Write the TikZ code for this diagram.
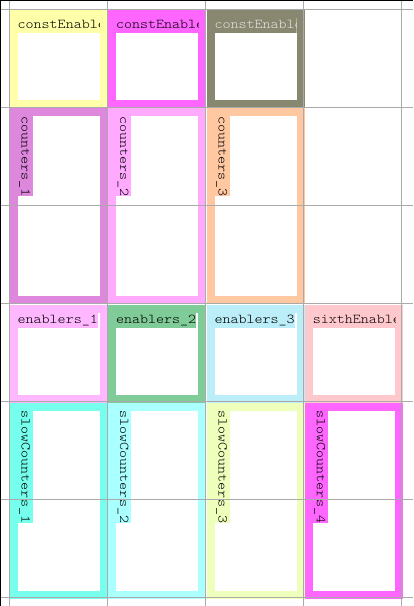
\documentclass[tikz,border=0pt]{standalone}
\usepackage{fontspec}
\usepackage{tikz}
\usetikzlibrary{positioning}
\newfontfamily\monolabel{lmmonolt10-regular.otf}[FakeStretch=1.13]

\definecolor{cenA}{HTML}{FFFFAA}
\definecolor{cenB}{HTML}{FF66FF}
\definecolor{cenC}{HTML}{888870}
\definecolor{cntA}{HTML}{DD88DD}
\definecolor{cntB}{HTML}{FFAAFF}
\definecolor{cntC}{HTML}{FFC8A0}
\definecolor{enbA}{HTML}{FFB8FF}
\definecolor{enbB}{HTML}{80CC98}
\definecolor{enbC}{HTML}{BBEEF8}
\definecolor{enbD}{HTML}{FFC8CC}
\definecolor{slwA}{HTML}{77FFEE}
\definecolor{slwB}{HTML}{AAFFFF}
\definecolor{slwC}{HTML}{EEFFBB}
\definecolor{slwD}{HTML}{FF66FF}
\definecolor{gridgray}{HTML}{AAAAAA}

\tikzset{
	cell/.style={draw=none, inner sep=0, minimum width=98pt, minimum height=98pt},
	tallcell/.style={cell, minimum height=196pt},
	hole/.style={fill=white, inner sep=0, minimum width=82pt, minimum height=82pt},
	tallhole/.style={hole, minimum height=180pt},
	hname/.style={inner sep=0, anchor=north west, text height=11pt, text depth=4pt,
		font=\monolabel\fontsize{13.5}{15}\selectfont},
	vname/.style={hname, rotate=-90, anchor=south west},
	gridline/.style={draw=gridgray, line width=1.2pt}
}

\begin{document}
\begin{tikzpicture}[x=1pt,y=-1pt]
	\useasboundingbox (0,0) rectangle (413,606);
	%% row 1 : constEnable
	\node[cell, anchor=north west, fill=cenA] (ce1) at (9.5,9.5) {};
	\node[cell, right =0pt of ce1, fill=cenB] (ce2) {};
	\node[cell, right =0pt of ce2, fill=cenC] (ce3) {};
	\node[hole, below right =8pt and 8pt of ce1.north west] (ce1h) {};
	\node[hole, below right =8pt and 8pt of ce2.north west] (ce2h) {};
	\node[hole, below right =8pt and 8pt of ce3.north west] (ce3h) {};
	\begin{scope}
		\clip (ce1h.north west) rectangle (ce1h.south east);
		\node[hname, fill=cenA] (ce1n) at (ce1h.north west) {constEnable\_1};
	\end{scope}
	\begin{scope}
		\clip (ce2h.north west) rectangle (ce2h.south east);
		\node[hname, fill=cenB] (ce2n) at (ce2h.north west) {constEnable\_2};
	\end{scope}
	\begin{scope}
		\clip (ce3h.north west) rectangle (ce3h.south east);
		\node[hname, fill=cenC, text=white!88!black] (ce3n) at (ce3h.north west) {constEnable\_3};
	\end{scope}
	%% rows 2-3 : counters
	\node[tallcell, below =0pt of ce1, fill=cntA] (ct1) {};
	\node[tallcell, below =0pt of ce2, fill=cntB] (ct2) {};
	\node[tallcell, below =0pt of ce3, fill=cntC] (ct3) {};
	\node[tallhole, below right =8pt and 8pt of ct1.north west] (ct1h) {};
	\node[tallhole, below right =8pt and 8pt of ct2.north west] (ct2h) {};
	\node[tallhole, below right =8pt and 8pt of ct3.north west] (ct3h) {};
	\node[vname, fill=cntA] (ct1n) at (ct1h.north west) {counters\_1};
	\node[vname, fill=cntB] (ct2n) at (ct2h.north west) {counters\_2};
	\node[vname, fill=cntC] (ct3n) at (ct3h.north west) {counters\_3};
	%% row 4 : enablers
	\node[cell, below =0pt of ct1, fill=enbA] (en1) {};
	\node[cell, right =0pt of en1, fill=enbB] (en2) {};
	\node[cell, right =0pt of en2, fill=enbC] (en3) {};
	\node[cell, right =0pt of en3, fill=enbD] (en4) {};
	\node[hole, below right =8pt and 8pt of en1.north west] (en1h) {};
	\node[hole, below right =8pt and 8pt of en2.north west] (en2h) {};
	\node[hole, below right =8pt and 8pt of en3.north west] (en3h) {};
	\node[hole, below right =8pt and 8pt of en4.north west] (en4h) {};
	\node[hname, fill=enbA] (en1n) at (en1h.north west) {enablers\_1};
	\node[hname, fill=enbB] (en2n) at (en2h.north west) {enablers\_2};
	\node[hname, fill=enbC] (en3n) at (en3h.north west) {enablers\_3};
	\begin{scope}
		\clip (en4h.north west) rectangle (en4h.south east);
		\node[hname, fill=enbD] (en4n) at (en4h.north west) {sixthEnable};
	\end{scope}
	%% rows 5-6 : slowCounters
	\node[tallcell, below =0pt of en1, fill=slwA] (sc1) {};
	\node[tallcell, right =0pt of sc1, fill=slwB] (sc2) {};
	\node[tallcell, right =0pt of sc2, fill=slwC] (sc3) {};
	\node[tallcell, right =0pt of sc3, fill=slwD] (sc4) {};
	\node[tallhole, below right =8pt and 8pt of sc1.north west] (sc1h) {};
	\node[tallhole, below right =8pt and 8pt of sc2.north west] (sc2h) {};
	\node[tallhole, below right =8pt and 8pt of sc3.north west] (sc3h) {};
	\node[tallhole, below right =8pt and 8pt of sc4.north west] (sc4h) {};
	\node[vname, fill=slwA] (sc1n) at (sc1h.north west) {slowCounters\_1};
	\node[vname, fill=slwB] (sc2n) at (sc2h.north west) {slowCounters\_2};
	\node[vname, fill=slwC] (sc3n) at (sc3h.north west) {slowCounters\_3};
	\node[vname, fill=slwD] (sc4n) at (sc4h.north west) {slowCounters\_4};
	% grid over everything
	\draw[gridline] (9.5,0) -- (9.5,606);
	\draw[gridline] (107.5,0) -- (107.5,606);
	\draw[gridline] (205.5,0) -- (205.5,606);
	\draw[gridline] (303.5,0) -- (303.5,606);
	\draw[gridline] (401.5,0) -- (401.5,606);
	\draw[gridline] (0,9.5) -- (413,9.5);
	\draw[gridline] (0,107.5) -- (413,107.5);
	\draw[gridline] (0,205.5) -- (413,205.5);
	\draw[gridline] (0,303.5) -- (413,303.5);
	\draw[gridline] (0,401.5) -- (413,401.5);
	\draw[gridline] (0,499.5) -- (413,499.5);
	\draw[gridline] (0,597.5) -- (413,597.5);
	% outer edges
	\draw[black, line width=1pt] (0.5,606) -- (0.5,0.5) -- (413,0.5);
\end{tikzpicture}
\end{document}
